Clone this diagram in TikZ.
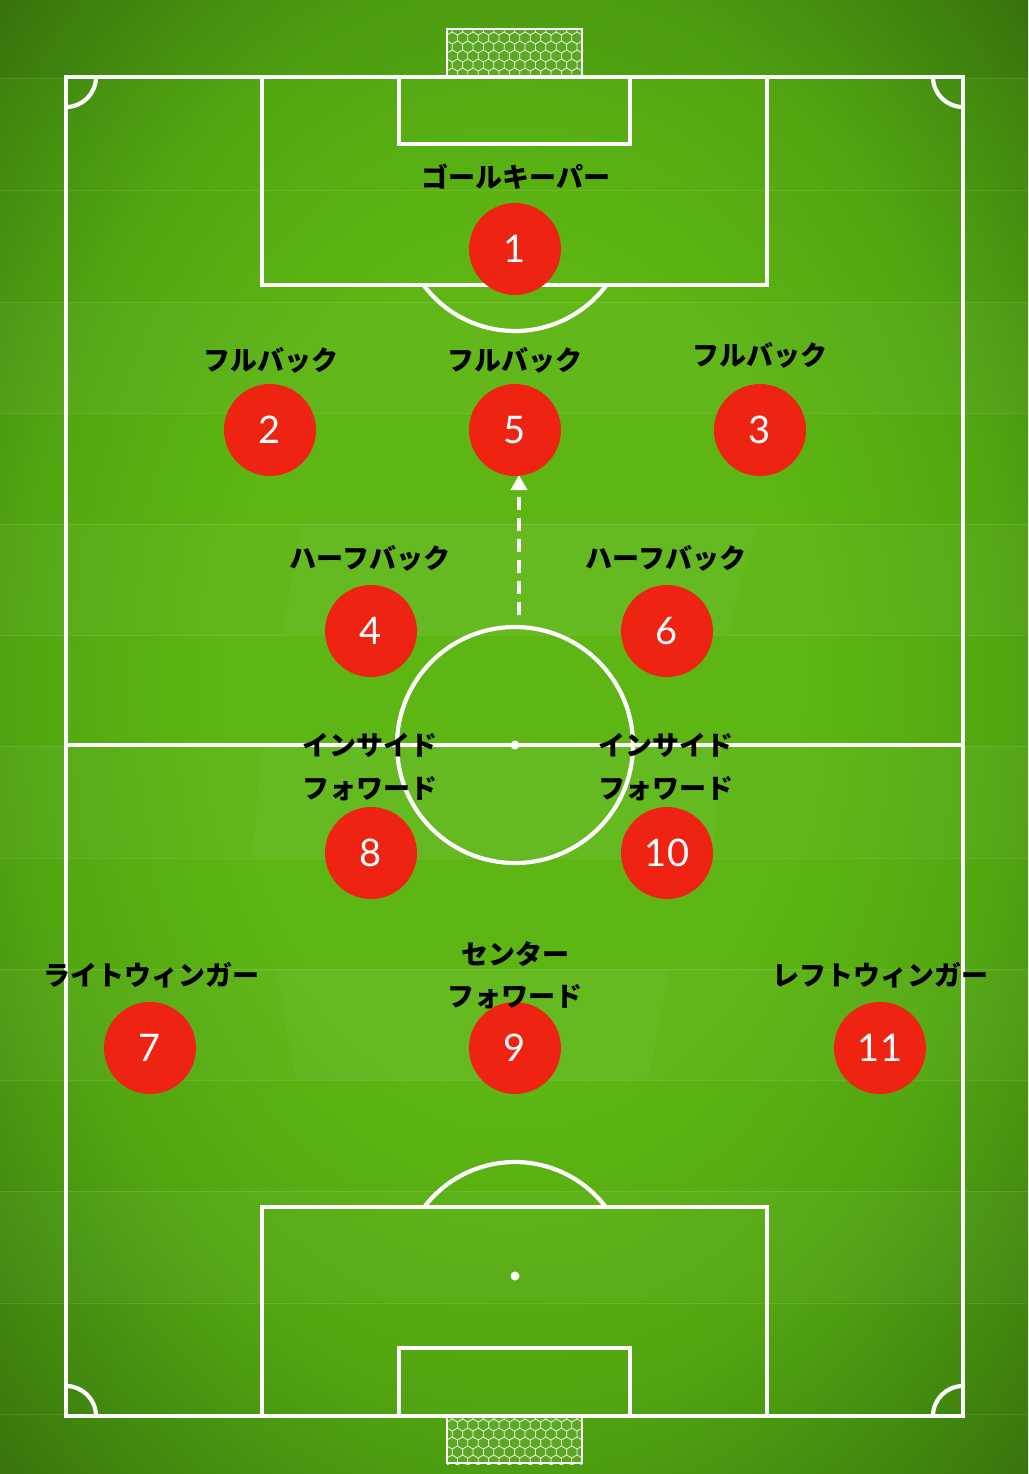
\documentclass[tikz,border=0pt]{standalone}
\usepackage{fontspec}
\newfontfamily\jp{Noto Sans CJK JP}
\newfontfamily\numfont{Lato}
\usetikzlibrary{arrows.meta}
\definecolor{fieldlight}{HTML}{5DB613}
\definecolor{fieldmid}{HTML}{52A611}
\definecolor{fielddark}{HTML}{428A0F}
\definecolor{fieldcorner}{HTML}{36700C}
\definecolor{pred}{HTML}{EE2311}
\pgfdeclareradialshading{fieldshade}{\pgfpoint{0bp}{3bp}}{color(0bp)=(fieldlight); color(14bp)=(fieldlight); color(24bp)=(fieldmid); color(31bp)=(fielddark); color(37bp)=(fieldcorner); color(50bp)=(fieldcorner)}
\begin{document}
\begin{tikzpicture}[x=1pt,y=-1pt,
  fieldline/.style={white, line width=4.2pt},
  player/.style={circle, fill=pred, minimum size=92pt, inner sep=0pt, text=white, font=\numfont\fontsize{38}{38}\selectfont},
  role/.style={anchor=base, inner sep=0pt, text=black, font=\jp\bfseries\fontsize{27}{27}\selectfont},
  zone/.style={fill=white, opacity=0.03},
  netline/.style={white, opacity=0.55, line width=0.8pt}]
\useasboundingbox (0,0) rectangle (1028,1474);
% background
\shade[shading=fieldshade] (0,0) rectangle (1028,1474);
\fill[black, opacity=0.05] (0,0) rectangle (1028,78);
\foreach \yy in {302,524,746,969,1191} {
  \fill[white, opacity=0.03] (0,\yy) rectangle (1028,\yy+111);
}
\foreach \yy in {78,190,302,413,524,635,746,858,969,1080,1191,1303,1414} {
  \draw[white, opacity=0.1, line width=0.8pt] (0,\yy) -- (1028,\yy);
}
% faint zones
\fill[zone] (300,524) -- (757,524) -- (728,635) -- (283,635) -- cycle;
\fill[zone] (262,746) -- (722,746) -- (712,858) -- (252,858) -- cycle;
\fill[zone] (276,969) -- (670,969) -- (648,1080) -- (296,1080) -- cycle;
% nets
\foreach \ny in {29,1416} {
  \begin{scope}
    \clip (447,\ny) rectangle (582,\ny+48);
    \fill[white, opacity=0.08] (447,\ny) rectangle (582,\ny+48);
    \foreach \r in {0,...,6} {
      \foreach \c in {0,...,13} {
        \pgfmathsetmacro\hx{447+\c*10.4+mod(\r,2)*5.2}
        \pgfmathsetmacro\hy{\ny+\r*9}
        \draw[netline, shift={(\hx,\hy)}] (90:6) -- (150:6) -- (210:6) -- (270:6) -- (330:6) -- (30:6) -- cycle;
      }
    }
  \end{scope}
}
\draw[white, line width=2.5pt] (447,77) -- (447,29) -- (582,29) -- (582,77);
\draw[white, line width=2.5pt] (447,1416) -- (447,1463) -- (582,1463) -- (582,1416);
% field lines
\draw[fieldline] (66,77) rectangle (963,1416);
\draw[fieldline] (66,745) -- (963,745);
\draw[fieldline] (515,745) circle[radius=118];
\fill[white] (515,745) circle[radius=4.5];
\draw[fieldline] (262,77) -- (262,285) -- (767,285) -- (767,77);
\draw[fieldline] (399,77) -- (399,144) -- (630,144) -- (630,77);
\draw[fieldline] (262,1416) -- (262,1207) -- (767,1207) -- (767,1416);
\draw[fieldline] (399,1416) -- (399,1348) -- (630,1348) -- (630,1416);
\fill[white] (515,217) circle[radius=4.5];
\fill[white] (515,1276) circle[radius=4.5];
\draw[fieldline] (515,217) ++(37.2:114) arc[start angle=37.2, end angle=142.8, radius=114];
\draw[fieldline] (515,1276) ++(217.2:114) arc[start angle=217.2, end angle=322.8, radius=114];
% corners
\draw[fieldline] (96,77) arc[start angle=0, end angle=90, radius=30];
\draw[fieldline] (963,107) arc[start angle=90, end angle=180, radius=30];
\draw[fieldline] (66,1386) arc[start angle=270, end angle=360, radius=30];
\draw[fieldline] (933,1416) arc[start angle=180, end angle=270, radius=30];
% arrow
\coordinate (as) at (519,615);
\coordinate (ae) at (519,475);
\draw[white, line width=4pt, dash pattern=on 13pt off 8pt, -{Triangle[width=16pt,length=15pt]}] (as) -- (ae);
% players
\node[player] (p1) at (515,249) {1};
\node[player] (p2) at (270,430) {2};
\node[player] (p5) at (515,430) {5};
\node[player] (p3) at (760,430) {3};
\node[player] (p4) at (371,631) {4};
\node[player] (p6) at (667,631) {6};
\node[player] (p8) at (371,853) {8};
\node[player] (p10) at (667,853) {10};
\node[player] (p7) at (150,1048) {7};
\node[player] (p9) at (515,1048) {9};
\node[player] (p11) at (880,1048) {11};
% roles
\node[role] (r1) at (516,187) {ゴールキーパー};
\node[role] (r2) at (271,370) {フルバック};
\node[role] (r5) at (515,370) {フルバック};
\node[role] (r3) at (760,365) {フルバック};
\node[role] (r4) at (370,568) {ハーフバック};
\node[role] (r6) at (666,568) {ハーフバック};
\node[role] (r8a) at (370,755) {インサイド};
\node[role] (r8b) at (370,798) {フォワード};
\node[role] (r10a) at (666,755) {インサイド};
\node[role] (r10b) at (666,798) {フォワード};
\node[role] (r7) at (151,985) {ライトウィンガー};
\node[role] (r9a) at (515,964) {センター};
\node[role] (r9b) at (515,1006) {フォワード};
\node[role] (r11) at (880,985) {レフトウィンガー};
\end{tikzpicture}
\end{document}
